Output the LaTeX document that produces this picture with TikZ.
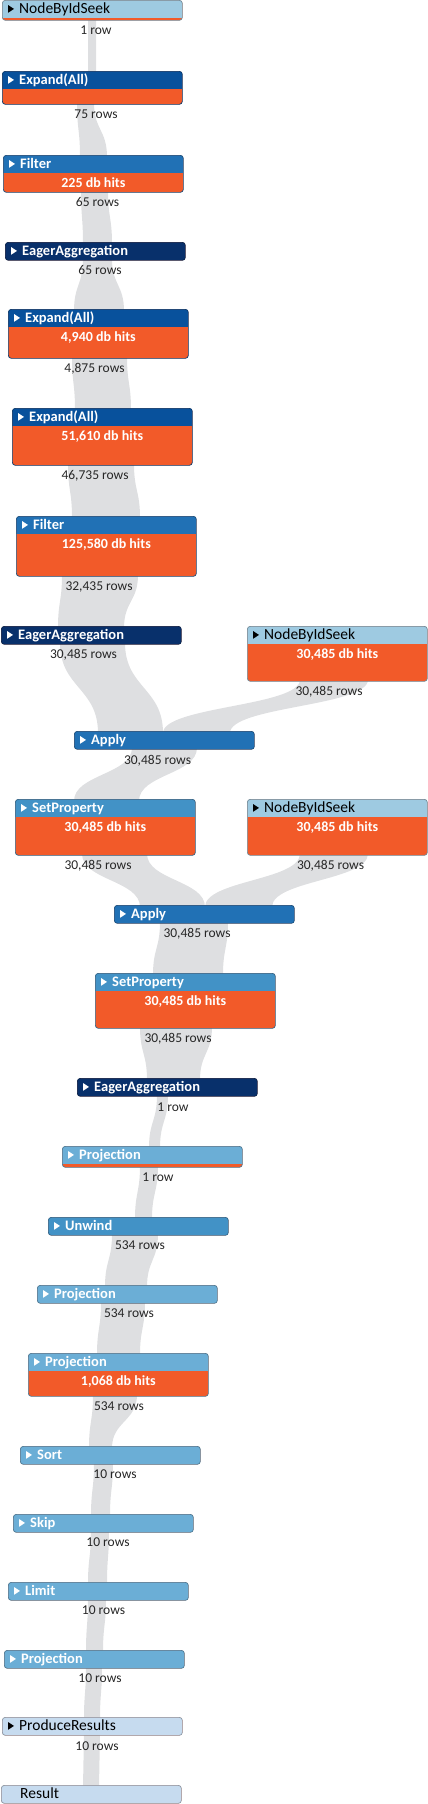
\documentclass[tikz,border=0pt]{standalone}
\usepackage{fontspec}
\setmainfont{Carlito}
\usepackage{tikz}
\usetikzlibrary{calc,backgrounds}
\definecolor{hitorange}{HTML}{F25A29}
\definecolor{streamgray}{HTML}{DEDFE1}
\definecolor{seekblue}{HTML}{9ECAE1}
\definecolor{expandblue}{HTML}{08519C}
\definecolor{filterblue}{HTML}{2171B5}
\definecolor{eagerblue}{HTML}{08306B}
\definecolor{setblue}{HTML}{4292C6}
\definecolor{projblue}{HTML}{6BAED6}
\definecolor{resultblue}{HTML}{C6DBEF}
\tikzset{
  op/.style     ={draw=#1!70!black,line width=0.7pt,rounded corners=3pt,fill=hitorange,
                  minimum width=180pt,minimum height=18pt,inner sep=0pt,anchor=north west,
                  path picture={\fill[#1,sharp corners] (path picture bounding box.north west)
                    rectangle ([yshift=-18pt]path picture bounding box.north east);}},
  title-d/.style={anchor=base west,inner sep=0pt,text=white,
                  font=\fontsize{14.5}{16}\selectfont\bfseries},
  title-l/.style={anchor=base west,inner sep=0pt,text=black,font=\fontsize{15.5}{17}\selectfont},
  mark-d/.style ={fill=white},
  mark-l/.style ={fill=black},
  hits/.style   ={anchor=base,inner sep=0pt,text=white,font=\fontsize{14}{16}\selectfont\bfseries},
  rows/.style   ={anchor=base,inner sep=0pt,text=black!85,font=\fontsize{13.5}{15}\selectfont},
  stream/.style ={fill=streamgray}
}
% operator box: name, left, top, height, header colour, d/l text, title, db hits
\newcommand\opnode[8]{%
  \node[op=#5,minimum height=#4pt] (#1) at (#2,#3) {};
  \fill[mark-#6] ([xshift=6pt,yshift=-5pt]#1.north west) -- ++(0,-7.8pt) -- ++(6pt,3.9pt) -- cycle;
  \node[title-#6] (#1-t) at ([xshift=17pt,yshift=-13.8pt]#1.north west) {#7};
  \if\relax\detokenize{#8}\relax\else
    \node[hits] (#1-h) at ([yshift=-32pt]#1.north) {#8};
  \fi}
% row stream: upper node, lower node, left/right offsets at both ends
\newcommand\flowband[6]{%
  \coordinate (fa) at ($(#1.south west)+(#3,-2)$);
  \coordinate (fb) at ($(#1.south west)+(#4,-2)$);
  \coordinate (fc) at ($(#2.north west)+(#5,2)$);
  \coordinate (fd) at ($(#2.north west)+(#6,2)$);
  \fill[stream] (fa) .. controls ($(fa)!.5!(fa|-fc)$) and ($(fc)!.5!(fc|-fa)$) .. (fc)
    -- (fd) .. controls ($(fd)!.5!(fd|-fb)$) and ($(fb)!.5!(fb|-fd)$) .. (fb) -- cycle;}

\begin{document}
\begin{tikzpicture}[x=1pt,y=-1pt]
  \useasboundingbox (0,0) rectangle (428,1804);
  \opnode{nbis1}{2}{0}{20}{seekblue}{l}{NodeByIdSeek}{}
  \opnode{exp1}{2}{71}{33}{expandblue}{d}{Expand(All)}{}
  \opnode{fil1}{3}{155}{37}{filterblue}{d}{Filter}{225 db hits}
  \opnode{ea1}{5}{242}{18}{eagerblue}{d}{EagerAggregation}{}
  \opnode{exp2}{8}{309}{49}{expandblue}{d}{Expand(All)}{4,940 db hits}
  \opnode{exp3}{12}{408}{57}{expandblue}{d}{Expand(All)}{51,610 db hits}
  \opnode{fil2}{16}{516}{60}{filterblue}{d}{Filter}{125,580 db hits}
  \opnode{ea2}{1}{626}{18}{eagerblue}{d}{EagerAggregation}{}
  \opnode{nbis2}{247}{626}{55}{seekblue}{l}{NodeByIdSeek}{30,485 db hits}
  \opnode{apply1}{74}{731}{18}{filterblue}{d}{Apply}{}
  \opnode{sp1}{15}{799}{56}{setblue}{d}{SetProperty}{30,485 db hits}
  \opnode{nbis3}{247}{799}{56}{seekblue}{l}{NodeByIdSeek}{30,485 db hits}
  \opnode{apply2}{114}{905}{18}{filterblue}{d}{Apply}{}
  \opnode{sp2}{95}{973}{55}{setblue}{d}{SetProperty}{30,485 db hits}
  \opnode{ea3}{77}{1078}{18}{eagerblue}{d}{EagerAggregation}{}
  \opnode{proj1}{62}{1146}{21}{projblue}{d}{Projection}{}
  \opnode{unwind}{48}{1217}{18}{setblue}{d}{Unwind}{}
  \opnode{proj2}{37}{1285}{18}{projblue}{d}{Projection}{}
  \opnode{proj3}{28}{1353}{43}{projblue}{d}{Projection}{1,068 db hits}
  \opnode{sort}{20}{1446}{18}{projblue}{d}{Sort}{}
  \opnode{skip}{13}{1514}{18}{projblue}{d}{Skip}{}
  \opnode{limit}{8}{1582}{18}{projblue}{d}{Limit}{}
  \opnode{proj4}{4}{1650}{18}{projblue}{d}{Projection}{}
  \opnode{pr}{2}{1717}{18}{resultblue}{l}{ProduceResults}{}
  \node[op=resultblue] (result) at (1,1785) {};
  \node[title-l] (result-t) at ([xshift=19pt,yshift=-13.8pt]result.north west) {Result};

  \node[rows] (nbis1-r) at (96,34.5) {1 row};
  \node[rows] (exp1-r) at (96,118.5) {75 rows};
  \node[rows] (fil1-r) at (97.5,206.5) {65 rows};
  \node[rows] (ea1-r) at (100,274.5) {65 rows};
  \node[rows] (exp2-r) at (94.5,372) {4,875 rows};
  \node[rows] (exp3-r) at (95,479.5) {46,735 rows};
  \node[rows] (fil2-r) at (99,590.5) {32,435 rows};
  \node[rows] (ea2-r) at (83.5,658.5) {30,485 rows};
  \node[rows] (nbis2-r) at (329,695.5) {30,485 rows};
  \node[rows] (apply1-r) at (157.5,764.5) {30,485 rows};
  \node[rows] (sp1-r) at (98,869.5) {30,485 rows};
  \node[rows] (nbis3-r) at (330.5,869.5) {30,485 rows};
  \node[rows] (apply2-r) at (197,937.5) {30,485 rows};
  \node[rows] (sp2-r) at (178,1042.5) {30,485 rows};
  \node[rows] (ea3-r) at (173,1111.5) {1 row};
  \node[rows] (proj1-r) at (158,1181.5) {1 row};
  \node[rows] (unwind-r) at (140,1249.5) {534 rows};
  \node[rows] (proj2-r) at (129,1317.5) {534 rows};
  \node[rows] (proj3-r) at (119,1410.5) {534 rows};
  \node[rows] (sort-r) at (115,1478.5) {10 rows};
  \node[rows] (skip-r) at (108,1546.5) {10 rows};
  \node[rows] (limit-r) at (103.5,1614.5) {10 rows};
  \node[rows] (proj4-r) at (100,1682.5) {10 rows};
  \node[rows] (pr-r) at (97,1750.5) {10 rows};

  \begin{scope}[on background layer]
    \flowband{nbis1}{exp1}{86}{94}{86}{94}
    \flowband{exp1}{fil1}{75}{92}{77}{104}
    \flowband{fil1}{ea1}{78}{105}{78}{107}
    \flowband{ea1}{exp2}{78}{107}{66}{116}
    \flowband{exp2}{exp3}{64}{119}{63}{119}
    \flowband{exp3}{fil2}{56}{122}{56}{124}
    \flowband{fil2}{ea2}{46}{122}{57}{123}
    \flowband{ea2}{apply1}{59}{124}{24}{89}
    \flowband{nbis2}{apply1}{53}{121}{89}{156}
    \flowband{apply1}{sp1}{58}{123}{59}{124}
    \flowband{sp1}{apply2}{67}{132}{26}{91}
    \flowband{nbis3}{apply2}{53}{121}{91}{158}
    \flowband{apply2}{sp2}{46}{114}{58}{128}
    \flowband{sp2}{ea3}{45}{117}{70}{123}
    \flowband{ea3}{proj1}{80}{91}{87}{98}
    \flowband{proj1}{unwind}{78}{96}{87}{104}
    \flowband{unwind}{proj2}{64}{110}{68}{110}
    \flowband{proj2}{proj3}{64}{108}{69}{112}
    \flowband{proj3}{sort}{65}{109}{69}{92}
    \flowband{sort}{skip}{74}{93}{78}{97}
    \flowband{skip}{limit}{78}{96}{80}{99}
    \flowband{limit}{proj4}{80}{98}{82}{99}
    \flowband{proj4}{pr}{82}{98}{82}{98}
    \flowband{pr}{result}{82}{98}{82}{98}
  \end{scope}
\end{tikzpicture}
\end{document}
